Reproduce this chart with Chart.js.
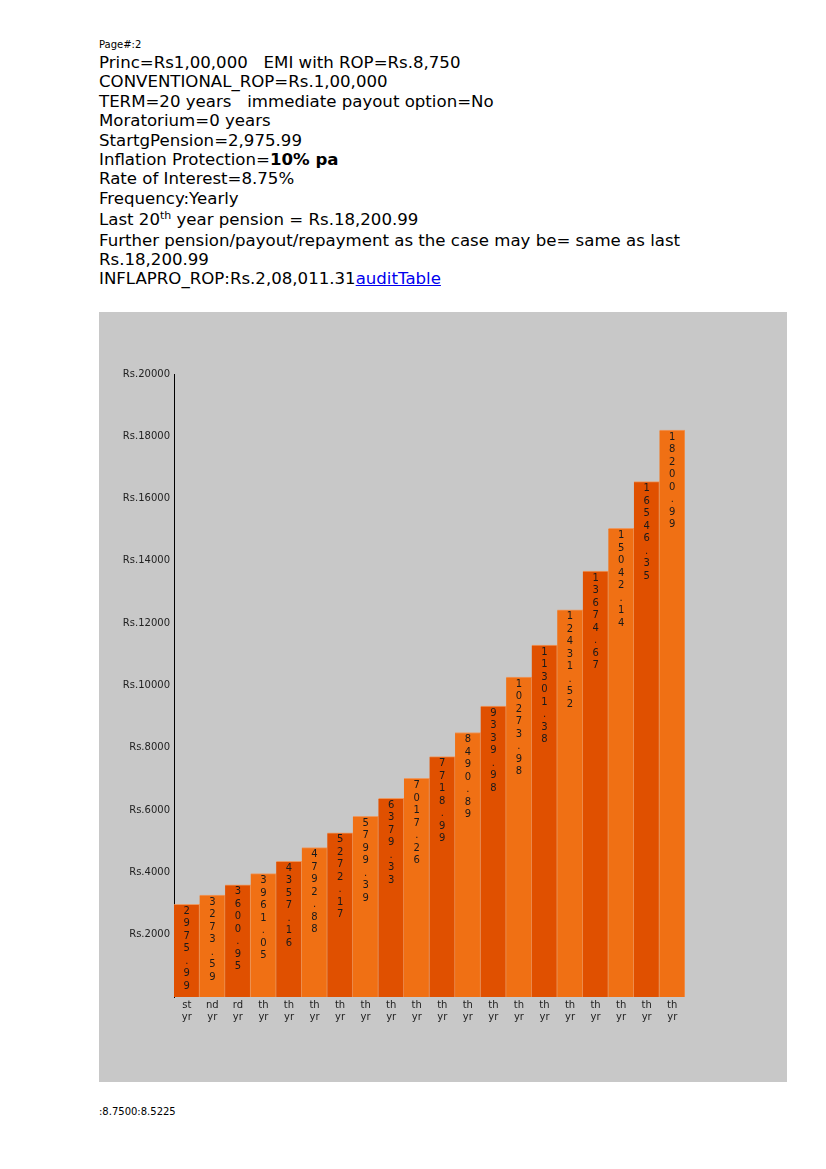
<!DOCTYPE html>
<html>
<head>
<meta charset="utf-8">
<script src="https://cdn.jsdelivr.net/npm/chart.js@4/dist/chart.umd.min.js"></script>
<style>
  html, body { margin: 0; padding: 0; background: #ffffff; }
  body { width: 826px; height: 1169px; position: relative; font-family: "DejaVu Sans", Verdana, sans-serif; color: #000; }
  .pg { position: absolute; left: 99px; top: 39px; font-size: 10px; }
  .hdr { position: absolute; left: 99px; top: 53px; font-size: 16.6px; line-height: 19.4px; white-space: nowrap; }
  .hdr sup { font-size: 11px; line-height: 0; vertical-align: 6px; }
  .hdr a { color: #0000ee; text-decoration: underline; }
  .sup-line { margin-top: 2px; margin-bottom: 1px; }
  .box { position: absolute; left: 99px; top: 312px; width: 688px; height: 770px; background: #c8c8c8; }
  .foot { position: absolute; left: 99px; top: 1106px; font-size: 10px; }
</style>
</head>
<body>
<div class="pg">Page#:2</div>
<div class="hdr">
  <div>Princ=Rs1,00,000&nbsp;&nbsp;&nbsp;EMI with ROP=Rs.8,750</div>
  <div>CONVENTIONAL_ROP=Rs.1,00,000</div>
  <div>TERM=20 years&nbsp;&nbsp;&nbsp;immediate payout option=No</div>
  <div>Moratorium=0 years</div>
  <div>StartgPension=2,975.99</div>
  <div>Inflation Protection=<b>10% pa</b></div>
  <div>Rate of Interest=8.75%</div>
  <div>Frequency:Yearly</div>
  <div class="sup-line">Last 20<sup>th</sup> year pension = Rs.18,200.99</div>
  <div>Further pension/payout/repayment as the case may be= same as last</div>
  <div>Rs.18,200.99</div>
  <div>INFLAPRO_ROP:Rs.2,08,011.31<a href="#">auditTable</a></div>
</div>
<div class="box"><canvas id="c" width="688" height="770"></canvas></div>
<div class="foot">:8.7500:8.5225</div>
<script>
// ---- data ----
const suffixes = ['st','nd','rd','th','th','th','th','th','th','th','th','th','th','th','th','th','th','th','th','th'];
const pensions = [2975.99, 3273.59, 3600.95, 3961.05, 4357.16, 4792.88, 5272.17, 5799.39, 6379.33, 7017.26,
                  7718.99, 8490.89, 9339.98, 10273.98, 11301.38, 12431.52, 13674.67, 15042.14, 16546.35, 18200.99];
const yTicks = [2000, 4000, 6000, 8000, 10000, 12000, 14000, 16000, 18000, 20000];

const darkC = '#e05000', lightC = '#f07014';
const labels = suffixes.map(s => [s, 'yr']);
const colors = pensions.map((v, i) => i % 2 === 0 ? darkC : lightC);

const vertLabels = {
  id: 'vertLabels',
  afterDatasetsDraw(chart) {
    const ctx = chart.ctx;
    const meta = chart.getDatasetMeta(0);
    ctx.save();
    ctx.font = '10px "DejaVu Sans", sans-serif';
    ctx.fillStyle = '#1a1a1a';
    ctx.textAlign = 'center';
    ctx.textBaseline = 'middle';
    meta.data.forEach((bar, i) => {
      const txt = pensions[i].toFixed(2);
      for (let k = 0; k < txt.length; k++) {
        ctx.fillText(txt[k], bar.x, bar.y + 7 + k * 12.5);
      }
    });
    ctx.restore();
  }
};

new Chart(document.getElementById('c'), {
  type: 'bar',
  data: {
    labels: labels,
    datasets: [{
      data: pensions,
      backgroundColor: colors,
      borderColor: 'rgba(245,140,70,0.8)',
      borderWidth: { top: 1, right: 1, left: 0, bottom: 0 },
      borderSkipped: 'bottom',
      barPercentage: 1,
      categoryPercentage: 1
    }]
  },
  options: {
    responsive: false,
    animation: false,
    events: [],
    layout: { padding: { top: 62, right: 102, bottom: 0, left: 0 } },
    plugins: { legend: { display: false }, tooltip: { enabled: false } },
    scales: {
      x: {
        grid: { display: false, drawTicks: false },
        border: { display: false },
        ticks: { color: '#222', font: { family: 'DejaVu Sans', size: 10 }, padding: 2, maxRotation: 0, autoSkip: false },
        afterFit(s) { s.height = 85; }
      },
      y: {
        min: 0, max: 20000,
        grid: { display: false, drawTicks: false },
        border: { display: true, color: '#000', width: 1 },
        afterBuildTicks(s) { s.ticks = yTicks.map(v => ({ value: v })); },
        ticks: {
          color: '#222', font: { family: 'DejaVu Sans', size: 10 }, padding: 4,
          callback: v => 'Rs.' + v
        },
        afterFit(s) { s.width = 75; }
      }
    }
  },
  plugins: [vertLabels]
});
</script>
</body>
</html>
